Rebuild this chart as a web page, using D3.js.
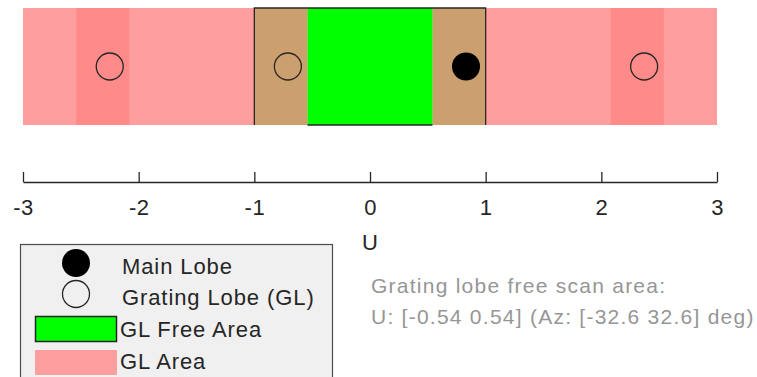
<!DOCTYPE html>
<html>
<head>
<meta charset="utf-8">
<script src="https://cdn.jsdelivr.net/npm/d3@7"></script>
<style>
  body { margin: 0; background: #fff; }
  svg { display: block; font-family: "Liberation Sans", Arial, sans-serif; }
</style>
</head>
<body>
<div class="container"></div>
<script>
(function(){

    // values
    var tickValues = [-3, -2, -1, 0, 1, 2, 3];
    var mainLobe = [0.83];
    var gratingLobes = [-2.25, -0.71, 2.37];
    var glAreas = [[-4.08, -2.08], [-2.54, -0.54], [0.54, 2.54], [2.08, 4.08]];
    var glOverlaps = [[-2.54, -2.08], [2.08, 2.54]];
    var visibleRegion = [-1, 1];
    var glFreeArea = [-0.54, 0.54];
    var legendLabels = ["Main Lobe", "Grating Lobe (GL)", "GL Free Area", "GL Area"];
    var infoLines = ["Grating lobe free scan area:", "U: [-0.54 0.54] (Az: [-32.6 32.6] deg)"];

    var W = 757, H = 377;
    var ink = "#262626";

    var svg = d3.select(".container").append("svg")
        .attr("width", W)
        .attr("height", H);

    var x = d3.scaleLinear().domain([-3, 3]).range([23, 717]);
    var y = d3.scaleLinear().domain([0, 1]).range([125, 8]);

    function clip(a) {
      return [Math.max(a[0], x.domain()[0]), Math.min(a[1], x.domain()[1])];
    }
    function rect(g, spans, fill) {
      g.selectAll(null)
        .data(spans.map(clip))
        .enter().append("rect")
        .attr("x", function(d) { return x(d[0]); })
        .attr("width", function(d) { return x(d[1]) - x(d[0]); })
        .attr("y", y(1))
        .attr("height", y(0) - y(1))
        .attr("fill", fill);
    }

    var plot = svg.append("g");

    // grating lobe areas, overlaps darker
    rect(plot, glAreas, "#ff9e9f");
    rect(plot, glOverlaps, "#ff8a8a");

    // parts of GL area inside visible region
    var inside = glAreas.map(function(a) {
      return [Math.max(a[0], visibleRegion[0]), Math.min(a[1], visibleRegion[1])];
    }).filter(function(a) { return a[1] > a[0]; });
    rect(plot, inside, "#cca06e");
    rect(plot, [glFreeArea], "#00ff00");

    // visible region outline (top + sides), green bottom edge
    plot.append("path")
        .attr("d", "M" + x(visibleRegion[0]) + "," + y(0) +
                   "V" + y(1) + "H" + x(visibleRegion[1]) + "V" + y(0))
        .attr("fill", "none")
        .attr("stroke", ink)
        .attr("stroke-width", 1.3);
    plot.append("line")
        .attr("x1", x(glFreeArea[0])).attr("x2", x(glFreeArea[1]))
        .attr("y1", y(0)).attr("y2", y(0))
        .attr("stroke", ink)
        .attr("stroke-width", 1.3);

    var my = y(0.5);

    plot.selectAll(".gl")
        .data(gratingLobes)
        .enter().append("circle")
        .attr("cx", function(d) { return x(d); })
        .attr("cy", my)
        .attr("r", 13.5)
        .attr("fill", "none")
        .attr("stroke", ink)
        .attr("stroke-width", 1.3);

    plot.selectAll(".ml")
        .data(mainLobe)
        .enter().append("circle")
        .attr("cx", function(d) { return x(d); })
        .attr("cy", my)
        .attr("r", 14)
        .attr("fill", "#000");

    // axis
    var axis = d3.axisBottom(x)
        .tickValues(tickValues)
        .tickFormat(function(d) { return String(d); })
        .tickSizeInner(-10)
        .tickSizeOuter(0)
        .tickPadding(17);

    var ag = svg.append("g")
        .attr("transform", "translate(0,182)")
        .call(axis);
    ag.select(".domain").attr("stroke", ink).attr("stroke-width", 1.3);
    ag.selectAll(".tick line").attr("stroke", ink).attr("stroke-width", 1.3);
    ag.selectAll(".tick text")
        .attr("fill", ink)
        .style("font-size", "22px")
        .style("letter-spacing", "0.5px")
        .style("font-family", "'Liberation Sans', Arial, sans-serif");

    svg.append("text")
        .attr("x", x(0))
        .attr("y", 250)
        .attr("text-anchor", "middle")
        .attr("fill", ink)
        .style("font-size", "22px")
        .text("U");

    // legend
    var leg = svg.append("g");
    leg.append("rect")
        .attr("x", 20.5).attr("y", 244.5)
        .attr("width", 312).attr("height", 150)
        .attr("fill", "#f0f0f0")
        .attr("stroke", "#4d4d4d")
        .attr("stroke-width", 1.2);

    var rowY = [266, 297, 329, 361];

    leg.selectAll(".lt")
        .data(legendLabels)
        .enter().append("text")
        .attr("x", function(d, i) { return i < 2 ? 122 : 120; })
        .attr("y", function(d, i) { return rowY[i]; })
        .attr("dy", "0.36em")
        .attr("fill", ink)
        .style("font-size", "22px")
        .style("letter-spacing", "0.9px")
        .text(function(d) { return d; });

    leg.append("circle")
        .attr("cx", 76).attr("cy", rowY[0] - 3).attr("r", 14)
        .attr("fill", "#000");
    leg.append("circle")
        .attr("cx", 76).attr("cy", rowY[1] - 3).attr("r", 13.5)
        .attr("fill", "none").attr("stroke", ink).attr("stroke-width", 1.3);
    leg.append("rect")
        .attr("x", 35.5).attr("y", 316.5).attr("width", 81).attr("height", 25)
        .attr("fill", "#00ff00").attr("stroke", ink).attr("stroke-width", 1.5);
    leg.append("rect")
        .attr("x", 35).attr("y", 350).attr("width", 82).attr("height", 25)
        .attr("fill", "#ff9e9f");

    // info text
    svg.selectAll(".info")
        .data(infoLines)
        .enter().append("text")
        .attr("x", 371)
        .attr("y", function(d, i) { return 285 + i * 31; })
        .attr("dy", "0.36em")
        .attr("fill", "#969696")
        .style("font-size", "21px")
        .style("letter-spacing", "1.25px")
        .text(function(d) { return d; });

})();
</script>
</body>
</html>
